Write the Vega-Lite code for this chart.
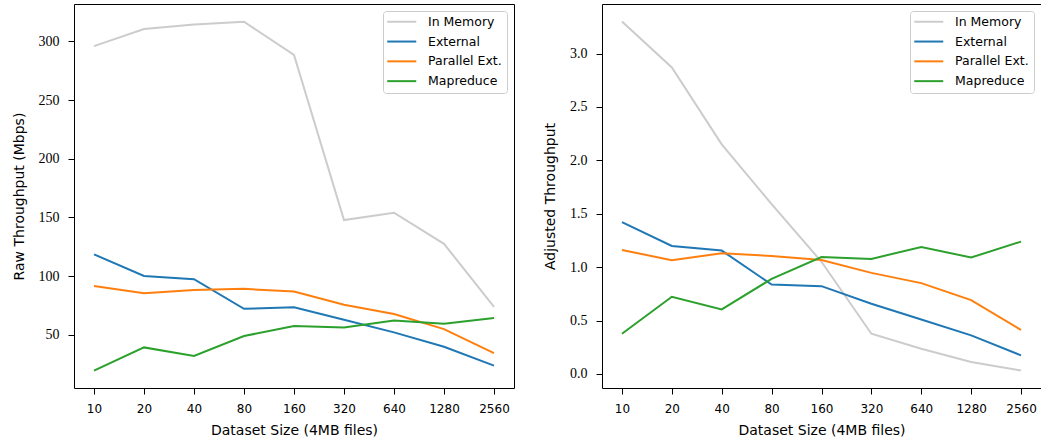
{
  "$schema": "https://vega.github.io/schema/vega-lite/v6.json",
  "padding": {"left": 11, "top": 3, "right": 0, "bottom": 0},
  "background": "white",
  "data": {"values": [
    {"size": 10, "method": "In Memory", "raw": 296, "adjusted": 3.30},
    {"size": 20, "method": "In Memory", "raw": 310.5, "adjusted": 2.87},
    {"size": 40, "method": "In Memory", "raw": 314.5, "adjusted": 2.15},
    {"size": 80, "method": "In Memory", "raw": 316.8, "adjusted": 1.59},
    {"size": 160, "method": "In Memory", "raw": 288.5, "adjusted": 1.05},
    {"size": 320, "method": "In Memory", "raw": 147.7, "adjusted": 0.376},
    {"size": 640, "method": "In Memory", "raw": 154, "adjusted": 0.236},
    {"size": 1280, "method": "In Memory", "raw": 127.5, "adjusted": 0.112},
    {"size": 2560, "method": "In Memory", "raw": 73.8, "adjusted": 0.031},
    {"size": 10, "method": "External", "raw": 118.5, "adjusted": 1.422},
    {"size": 20, "method": "External", "raw": 100.1, "adjusted": 1.198},
    {"size": 40, "method": "External", "raw": 97.3, "adjusted": 1.155},
    {"size": 80, "method": "External", "raw": 72.1, "adjusted": 0.837},
    {"size": 160, "method": "External", "raw": 73.5, "adjusted": 0.822},
    {"size": 320, "method": "External", "raw": 62.7, "adjusted": 0.657},
    {"size": 640, "method": "External", "raw": 52, "adjusted": 0.51},
    {"size": 1280, "method": "External", "raw": 39.8, "adjusted": 0.361},
    {"size": 2560, "method": "External", "raw": 23.7, "adjusted": 0.174},
    {"size": 10, "method": "Parallel Ext.", "raw": 91.6, "adjusted": 1.161},
    {"size": 20, "method": "Parallel Ext.", "raw": 85.4, "adjusted": 1.064},
    {"size": 40, "method": "Parallel Ext.", "raw": 88.2, "adjusted": 1.13},
    {"size": 80, "method": "Parallel Ext.", "raw": 89.1, "adjusted": 1.105},
    {"size": 160, "method": "Parallel Ext.", "raw": 86.8, "adjusted": 1.067},
    {"size": 320, "method": "Parallel Ext.", "raw": 75.5, "adjusted": 0.946},
    {"size": 640, "method": "Parallel Ext.", "raw": 67.6, "adjusted": 0.85},
    {"size": 1280, "method": "Parallel Ext.", "raw": 54.8, "adjusted": 0.691},
    {"size": 2560, "method": "Parallel Ext.", "raw": 34.4, "adjusted": 0.411},
    {"size": 10, "method": "Mapreduce", "raw": 19.4, "adjusted": 0.376},
    {"size": 20, "method": "Mapreduce", "raw": 39.2, "adjusted": 0.722},
    {"size": 40, "method": "Mapreduce", "raw": 31.9, "adjusted": 0.604},
    {"size": 80, "method": "Mapreduce", "raw": 48.9, "adjusted": 0.89},
    {"size": 160, "method": "Mapreduce", "raw": 57.4, "adjusted": 1.095},
    {"size": 320, "method": "Mapreduce", "raw": 56.2, "adjusted": 1.077},
    {"size": 640, "method": "Mapreduce", "raw": 62.2, "adjusted": 1.189},
    {"size": 1280, "method": "Mapreduce", "raw": 59.3, "adjusted": 1.09},
    {"size": 2560, "method": "Mapreduce", "raw": 64.2, "adjusted": 1.239}
  ]},
  "spacing": 88,
  "bounds": "flush",
  "resolve": {"legend": {"color": "independent"}},
  "config": {
    "view": {"stroke": "black", "strokeWidth": 1},
    "axis": {
      "grid": false, "domain": false, "tickColor": "black", "tickSize": 6, "tickWidth": 1,
      "labelColor": "black", "titleColor": "black",
      "titleFont": "DejaVu Sans", "titleFontSize": 14, "titleFontWeight": "normal"
    },
    "axisX": {"labelFont": "DejaVu Sans", "labelFontSize": 12, "labelAngle": 0, "labelPadding": 9, "titlePadding": 9},
    "axisY": {"labelFont": "Liberation Serif", "labelFontSize": 14, "labelPadding": 9, "titlePadding": 12},
    "legend": {
      "orient": "top-right", "offset": 7, "strokeColor": "#cccccc", "cornerRadius": 3,
      "padding": 4.5, "fillColor": "white", "symbolType": "M-2.9,0H2.9", "symbolStrokeWidth": 2,
      "symbolSize": 100, "symbolOffset": 8, "labelFont": "DejaVu Sans", "labelFontSize": 12.5, "labelColor": "black",
      "rowPadding": 6.8, "labelOffset": 20
    },
    "line": {"strokeWidth": 2}
  },
  "hconcat": [
    {
      "width": 440, "height": 384,
      "mark": {"type": "line"},
      "encoding": {
        "x": {"field": "size", "type": "ordinal", "scale": {"type": "point", "padding": 0.4}, "title": "Dataset Size (4MB files)"},
        "y": {"field": "raw", "type": "quantitative", "scale": {"domain": [4.6, 331.9], "nice": false, "zero": false}, "axis": {"values": [50, 100, 150, 200, 250, 300]}, "title": "Raw Throughput (Mbps)"},
        "color": {"field": "method", "type": "nominal", "scale": {"domain": ["In Memory", "External", "Parallel Ext.", "Mapreduce"], "range": ["#cccccc", "#1f77b4", "#ff7f0e", "#2ca02c"]}, "legend": {"title": null}}
      }
    },
    {
      "width": 439, "height": 384,
      "mark": {"type": "line"},
      "encoding": {
        "x": {"field": "size", "type": "ordinal", "scale": {"type": "point", "padding": 0.4}, "title": "Dataset Size (4MB files)"},
        "y": {"field": "adjusted", "type": "quantitative", "scale": {"domain": [-0.132, 3.464], "nice": false, "zero": false}, "axis": {"values": [0, 0.5, 1, 1.5, 2, 2.5, 3], "format": ".1f"}, "title": "Adjusted Throughput"},
        "color": {"field": "method", "type": "nominal", "scale": {"domain": ["In Memory", "External", "Parallel Ext.", "Mapreduce"], "range": ["#cccccc", "#1f77b4", "#ff7f0e", "#2ca02c"]}, "legend": {"title": null}}
      }
    }
  ]
}
